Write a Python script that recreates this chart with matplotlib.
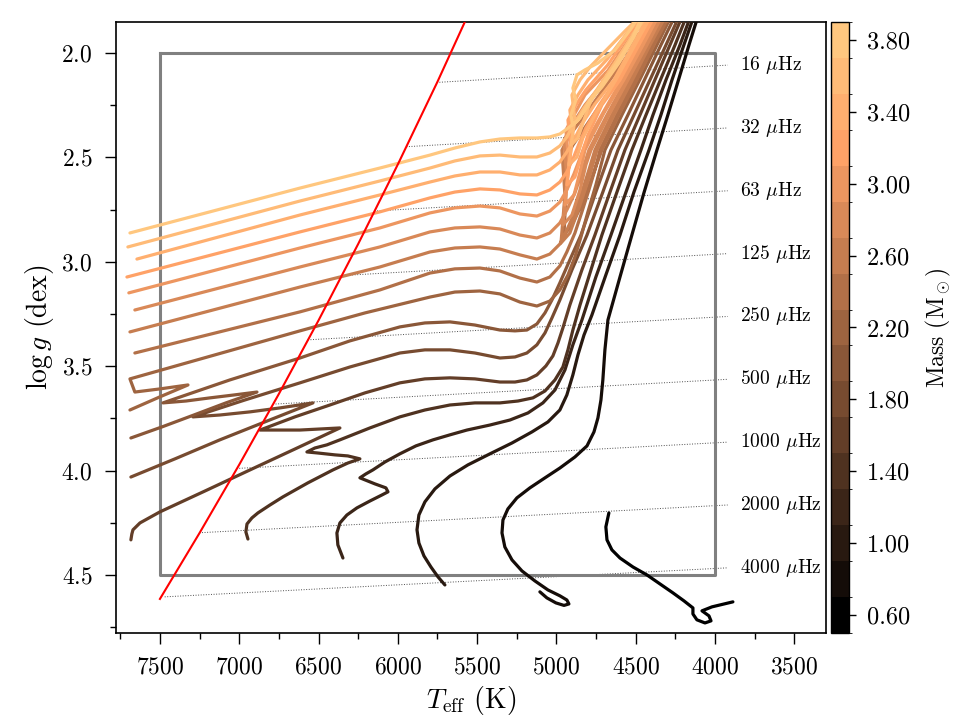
import numpy as np
import matplotlib
matplotlib.use('Agg')
import matplotlib.pyplot as plt
from matplotlib.colors import ListedColormap, BoundaryNorm
from matplotlib.cm import ScalarMappable
from matplotlib.ticker import MultipleLocator

plt.rcParams['font.family'] = 'serif'
plt.rcParams['font.serif'] = ['cmr10']
plt.rcParams['mathtext.fontset'] = 'cm'
plt.rcParams['axes.formatter.use_mathtext'] = True

# Track masses (solar masses), one track per mass
masses = [0.6, 0.8, 1.0, 1.2, 1.4, 1.6, 1.8, 2.0, 2.2, 2.4, 2.6, 2.8, 3.0, 3.2, 3.4, 3.6, 3.8]
cbar_ticks = [0.6, 1.0, 1.4, 1.8, 2.2, 2.6, 3.0, 3.4, 3.8]

# Evolutionary tracks (Teff in K, log g in dex)
teff_m06 = [4669, 4688, 4681, 4650, 4599, 4517, 4429, 4347, 4265, 4196, 4139, 4139, 4114, 4063, 4025, 4038,
            4082, 4019, 3887]
logg_m06 = [4.203, 4.270, 4.332, 4.380, 4.419, 4.462, 4.500, 4.543, 4.586, 4.624, 4.658, 4.687, 4.715, 4.730,
            4.720, 4.696, 4.672, 4.653, 4.629]

teff_m08 = [5104, 5060, 5003, 4952, 4921, 4934, 4978, 5053, 5135, 5217, 5280, 5325, 5343, 5337, 5306, 5249,
            5167, 5072, 4978, 4883, 4807, 4763, 4738, 4719, 4707, 4694, 4675, 4599, 4524, 4448, 4366, 4297,
            4230, 4164, 4095]
logg_m08 = [4.581, 4.610, 4.634, 4.646, 4.639, 4.620, 4.600, 4.572, 4.529, 4.481, 4.428, 4.366, 4.299, 4.237,
            4.184, 4.131, 4.083, 4.035, 3.988, 3.935, 3.882, 3.815, 3.748, 3.662, 3.566, 3.422, 3.279, 3.073,
            2.872, 2.670, 2.465, 2.297, 2.129, 1.962, 1.794]

teff_m10 = [5703, 5747, 5791, 5835, 5867, 5879, 5867, 5829, 5766, 5671, 5558, 5419, 5280, 5154, 5053, 4978,
            4934, 4896, 4864, 4826, 4776, 4688, 4599, 4511, 4416, 4341, 4271, 4196, 4120]
logg_m10 = [4.548, 4.509, 4.462, 4.409, 4.347, 4.284, 4.213, 4.150, 4.088, 4.026, 3.973, 3.920, 3.868, 3.815,
            3.767, 3.710, 3.638, 3.542, 3.446, 3.351, 3.255, 3.063, 2.872, 2.666, 2.465, 2.297, 2.129, 1.962,
            1.794]

teff_m12 = [6346, 6378, 6384, 6365, 6321, 6258, 6176, 6100, 6062, 6075, 6144, 6239, 6201, 6157, 6081, 5987,
            5886, 5778, 5671, 5564, 5419, 5293, 5179, 5085, 5009, 4946, 4896, 4839, 4751, 4656, 4561, 4467,
            4391, 4309, 4221, 4139]
logg_m12 = [4.419, 4.356, 4.299, 4.251, 4.213, 4.179, 4.146, 4.117, 4.102, 4.083, 4.064, 4.035, 4.016, 3.997,
            3.959, 3.920, 3.882, 3.853, 3.829, 3.806, 3.782, 3.758, 3.724, 3.676, 3.614, 3.518, 3.398, 3.279,
            3.073, 2.872, 2.666, 2.465, 2.297, 2.129, 1.962, 1.794]

teff_m14 = [6945, 6958, 6951, 6920, 6882, 6806, 6724, 6567, 6409, 6315, 6239, 6315, 6396, 6504, 6573, 6523,
            6447, 6365, 6176, 5987, 5829, 5671, 5514, 5356, 5242, 5148, 5072, 5009, 4959, 4927, 4896, 4851,
            4782, 4713, 4618, 4524, 4435, 4344, 4252, 4164]
logg_m14 = [4.328, 4.294, 4.256, 4.227, 4.203, 4.165, 4.126, 4.059, 3.997, 3.964, 3.944, 3.930, 3.925, 3.916,
            3.911, 3.892, 3.877, 3.853, 3.796, 3.743, 3.710, 3.686, 3.676, 3.676, 3.667, 3.652, 3.619, 3.566,
            3.504, 3.422, 3.327, 3.207, 3.039, 2.872, 2.666, 2.465, 2.297, 2.129, 1.962, 1.794]

teff_m16 = [7683, 7677, 7670, 7626, 7500, 7216, 6932, 6649, 6365, 6491, 6617, 6743, 6869, 6649, 6428, 6207,
            5987, 5829, 5671, 5514, 5356, 5261, 5186, 5123, 5066, 5022, 4990, 4959, 4915, 4839, 4757, 4662,
            4568, 4473, 4379, 4284, 4189]
logg_m16 = [4.332, 4.304, 4.284, 4.251, 4.198, 4.098, 3.997, 3.897, 3.796, 3.801, 3.806, 3.806, 3.806, 3.743,
            3.686, 3.628, 3.580, 3.561, 3.556, 3.561, 3.576, 3.576, 3.566, 3.542, 3.499, 3.451, 3.389, 3.317,
            3.207, 3.039, 2.872, 2.666, 2.465, 2.297, 2.129, 1.962, 1.794]

teff_m18 = [7683, 7405, 7122, 6838, 6535, 6743, 6932, 7122, 7292, 6964, 6617, 6302, 5987, 5829, 5671, 5514,
            5356, 5261, 5186, 5123, 5072, 5028, 4978, 4902, 4807, 4707, 4612, 4511, 4410, 4309, 4208]
logg_m18 = [4.031, 3.944, 3.853, 3.767, 3.676, 3.700, 3.719, 3.734, 3.743, 3.662, 3.580, 3.504, 3.437, 3.422,
            3.422, 3.437, 3.461, 3.456, 3.437, 3.398, 3.341, 3.269, 3.183, 3.039, 2.872, 2.666, 2.465, 2.297,
            2.129, 1.962, 1.794]

teff_m20 = [7683, 7487, 7286, 7084, 6888, 7033, 7185, 7336, 7481, 7059, 6617, 6302, 5987, 5829, 5671, 5514,
            5356, 5261, 5186, 5123, 5072, 5028, 4978, 4915, 4845, 4751, 4656, 4549, 4445, 4341, 4234]
logg_m20 = [3.844, 3.791, 3.734, 3.676, 3.624, 3.638, 3.652, 3.667, 3.676, 3.566, 3.461, 3.379, 3.312, 3.293,
            3.288, 3.303, 3.327, 3.331, 3.327, 3.298, 3.245, 3.183, 3.101, 2.991, 2.872, 2.666, 2.465, 2.297,
            2.129, 1.962, 1.794]

teff_m22 = [7689, 7500, 7323, 7500, 7658, 7689, 7153, 6617, 6207, 5797, 5640, 5482, 5356, 5230, 5123, 5041,
            4978, 4927, 4883, 4845, 4801, 4751, 4694, 4587, 4475, 4366, 4257]
logg_m22 = [3.710, 3.647, 3.590, 3.609, 3.624, 3.561, 3.446, 3.331, 3.245, 3.169, 3.145, 3.140, 3.154, 3.193,
            3.212, 3.188, 3.135, 3.063, 2.977, 2.881, 2.761, 2.632, 2.465, 2.297, 2.129, 1.962, 1.794]

teff_m24 = [7658, 6617, 6113, 5797, 5640, 5482, 5356, 5230, 5123, 5041, 4978, 4934, 4883, 4839, 4795, 4757,
            4725, 4618, 4506, 4398, 4280,
            4293, 4473, 4647, 4788, 4896, 4946, 4940, 4952, 4902, 4826, 4763, 4713, 4606, 4492, 4385, 4268]
logg_m24 = [3.437, 3.240, 3.135, 3.054, 3.034, 3.030, 3.044, 3.078, 3.097, 3.073, 3.020, 2.953, 2.862, 2.761,
            2.656, 2.560, 2.465, 2.297, 2.129, 1.962, 1.794,
            1.794, 1.962, 2.163, 2.321, 2.441, 2.512, 2.680, 2.872, 2.824, 2.704, 2.570, 2.465, 2.297, 2.129,
            1.962, 1.794]

teff_m26 = [7689, 6617, 6113, 5797, 5640, 5482, 5356, 5230, 5123, 5041, 4978, 4934, 4883, 4839, 4795, 4757,
            4650, 4533, 4423, 4303,
            4316, 4492, 4669, 4820, 4915, 4965, 4946, 4971, 4915, 4851, 4788, 4744, 4637, 4521, 4410, 4290]
logg_m26 = [3.336, 3.121, 3.025, 2.953, 2.934, 2.929, 2.939, 2.967, 2.987, 2.963, 2.915, 2.848, 2.761, 2.666,
            2.560, 2.465, 2.297, 2.129, 1.962, 1.794,
            1.794, 1.947, 2.137, 2.297, 2.393, 2.465, 2.680, 2.910, 2.862, 2.728, 2.584, 2.465, 2.297, 2.129,
            1.962, 1.794]

teff_m28 = [7658, 6617, 6113, 5797, 5640, 5482, 5356, 5230, 5123, 5041, 4978, 4934, 4883, 4839, 4795, 4681,
            4560, 4442, 4326,
            4339, 4505, 4670, 4820, 4902, 4952, 4934, 4959, 4902, 4851, 4814, 4782, 4669, 4549, 4429, 4314]
logg_m28 = [3.231, 3.025, 2.929, 2.857, 2.838, 2.833, 2.843, 2.872, 2.886, 2.862, 2.814, 2.752, 2.670, 2.570,
            2.465, 2.297, 2.129, 1.962, 1.794,
            1.794, 1.928, 2.110, 2.249, 2.345, 2.417, 2.608, 2.824, 2.776, 2.656, 2.536, 2.465, 2.297, 2.129,
            1.962, 1.794]

teff_m30 = [7696, 6617, 6113, 5797, 5640, 5482, 5356, 5230, 5123, 5041, 4978, 4934, 4889, 4851, 4820, 4707,
            4588, 4467, 4350,
            4362, 4524, 4675, 4820, 4889, 4940, 4921, 4946, 4889, 4851, 4820, 4700, 4575, 4454, 4337]
logg_m30 = [3.149, 2.934, 2.838, 2.766, 2.742, 2.733, 2.742, 2.771, 2.781, 2.757, 2.714, 2.656, 2.579, 2.503,
            2.441, 2.287, 2.129, 1.962, 1.794,
            1.794, 1.914, 2.084, 2.201, 2.297, 2.369, 2.536, 2.728, 2.680, 2.570, 2.465, 2.287, 2.129, 1.962,
            1.794]

teff_m32 = [7708, 6617, 6113, 5797, 5640, 5482, 5356, 5230, 5123, 5041, 4978, 4934, 4896, 4858, 4814, 4725,
            4612, 4492, 4372,
            4385, 4536, 4677, 4814, 4877, 4927, 4908, 4934, 4883, 4851, 4801, 4713, 4599, 4480, 4360]
logg_m32 = [3.073, 2.857, 2.761, 2.694, 2.666, 2.651, 2.656, 2.675, 2.680, 2.656, 2.618, 2.570, 2.508, 2.436,
            2.359, 2.244, 2.120, 1.962, 1.794,
            1.794, 1.904, 2.058, 2.177, 2.249, 2.321, 2.465, 2.632, 2.594, 2.512, 2.393, 2.249, 2.129, 1.962,
            1.794]

teff_m34 = [7645, 6617, 6113, 5797, 5640, 5482, 5356, 5230, 5123, 5041, 4978, 4934, 4889, 4839, 4757, 4637,
            4517, 4396,
            4408, 4549, 4681, 4801, 4864, 4915, 4896, 4921, 4870, 4833, 4757, 4625, 4505, 4383]
logg_m34 = [2.987, 2.776, 2.680, 2.618, 2.589, 2.570, 2.570, 2.584, 2.584, 2.560, 2.522, 2.474, 2.417, 2.340,
            2.244, 2.129, 1.962, 1.794,
            1.794, 1.899, 2.031, 2.129, 2.201, 2.273, 2.393, 2.536, 2.498, 2.407, 2.297, 2.129, 1.962, 1.794]

teff_m36 = [7702, 6617, 6113, 5797, 5640, 5482, 5356, 5230, 5123, 5041, 4978, 4934, 4889, 4826, 4738, 4631,
            4524, 4419,
            4431, 4561, 4690, 4788, 4851, 4902, 4883, 4908, 4864, 4826, 4782, 4700, 4599, 4498, 4406]
logg_m36 = [2.929, 2.709, 2.613, 2.551, 2.517, 2.493, 2.489, 2.498, 2.498, 2.479, 2.445, 2.402, 2.340, 2.263,
            2.168, 2.048, 1.919, 1.794,
            1.794, 1.890, 1.990, 2.067, 2.129, 2.201, 2.321, 2.441, 2.407, 2.321, 2.225, 2.129, 2.019, 1.899,
            1.794]

teff_m38 = [7689, 6617, 6113, 5797, 5640, 5482, 5356, 5230, 5123, 5041, 4978, 4934, 4870, 4807, 4725, 4618,
            4517, 4442,
            4454, 4536, 4631, 4738, 4820, 4870, 4896, 4877, 4908, 4896, 4851, 4788, 4713, 4606, 4511, 4429]
logg_m38 = [2.862, 2.647, 2.551, 2.489, 2.455, 2.426, 2.412, 2.407, 2.407, 2.402, 2.388, 2.364, 2.326, 2.259,
            2.163, 2.048, 1.923, 1.794,
            1.794, 1.890, 1.986, 2.048, 2.081, 2.105, 2.168, 2.225, 2.297, 2.345, 2.311, 2.225, 2.163, 2.048,
            1.923, 1.794]

tracks_teff = [teff_m06, teff_m08, teff_m10, teff_m12, teff_m14, teff_m16, teff_m18, teff_m20, teff_m22,
               teff_m24, teff_m26, teff_m28, teff_m30, teff_m32, teff_m34, teff_m36, teff_m38]
tracks_logg = [logg_m06, logg_m08, logg_m10, logg_m12, logg_m14, logg_m16, logg_m18, logg_m20, logg_m22,
               logg_m24, logg_m26, logg_m28, logg_m30, logg_m32, logg_m34, logg_m36, logg_m38]

# Red edge line
red_teff = [7500, 7250, 7000, 6750, 6500, 6250, 6000, 5750, 5500]
red_logg = [4.615, 4.299, 3.972, 3.633, 3.281, 2.915, 2.534, 2.138, 1.723]

# Iso-numax lines (dotted) with their labels
numax_labels = ['16', '32', '63', '125', '250', '500', '1000', '2000', '4000']
numax_teff_start = [5754, 5946, 6147, 6353, 6567, 6787, 7016, 7251, 7470]
numax_logg_start = [2.141, 2.449, 2.757, 3.066, 3.374, 3.682, 3.990, 4.298, 4.605]
numax_logg_end = [2.058, 2.359, 2.660, 2.961, 3.262, 3.563, 3.864, 4.165, 4.466]
numax_teff_end = 3920
numax_label_teff = 3845

# Selection box
box_teff = [7500, 4000]
box_logg = [2.0, 4.5]


def main():
    fig = plt.figure(figsize=(9.61, 7.21), dpi=100)
    ax = fig.add_axes([0.1207, 0.1221, 0.7388, 0.8474])
    cax = fig.add_axes([0.8647, 0.1221, 0.0187, 0.8474])

    cmap = ListedColormap(plt.cm.copper(np.linspace(0, 1, len(masses))))
    bounds = [m - 0.1 for m in masses] + [masses[-1] + 0.1]
    norm = BoundaryNorm(bounds, cmap.N)

    # numax lines
    for lab, t0, g0, g1 in zip(numax_labels, numax_teff_start, numax_logg_start, numax_logg_end):
        ax.plot([t0, numax_teff_end], [g0, g1], ls=':', color='0.3', lw=0.7, zorder=1)
        ax.text(numax_label_teff, g1, lab + r' $\mu$Hz', fontsize=14, ha='left', va='center')

    # box
    ax.plot([box_teff[0], box_teff[1], box_teff[1], box_teff[0], box_teff[0]],
            [box_logg[0], box_logg[0], box_logg[1], box_logg[1], box_logg[0]],
            color='0.5', lw=2.2, zorder=2)

    # tracks
    for m, t, g in zip(masses, tracks_teff, tracks_logg):
        ax.plot(t, g, color=cmap(norm(m)), lw=2.3, zorder=3,
                solid_joinstyle='round', solid_capstyle='round')

    ax.plot(red_teff, red_logg, color='red', lw=1.5, zorder=4)

    ax.set_xlim(7777, 3300)
    ax.set_ylim(4.778, 1.8515)
    ax.xaxis.set_major_locator(MultipleLocator(500))
    ax.xaxis.set_minor_locator(MultipleLocator(250))
    ax.yaxis.set_major_locator(MultipleLocator(0.5))
    ax.yaxis.set_minor_locator(MultipleLocator(0.25))
    ax.tick_params(which='major', direction='out', length=8, width=1.0, pad=9, labelsize=17,
                   top=False, right=False)
    ax.tick_params(which='minor', direction='out', length=4, width=1.0, top=False, right=False)
    for s in ax.spines.values():
        s.set_linewidth(1.2)
    ax.set_xlabel(r'$T_{\rm eff}$ (K)', fontsize=20)
    ax.set_ylabel(r'$\log g$ (dex)', fontsize=20)

    sm = ScalarMappable(norm=norm, cmap=cmap)
    cb = fig.colorbar(sm, cax=cax, ticks=cbar_ticks, format='%.2f')
    cb.outline.set_linewidth(1.0)
    cax.tick_params(direction='out', length=5, width=1.0, pad=8, labelsize=17.5)
    cb.set_label(r'Mass (M$_\odot$)', fontsize=17, labelpad=10)

    fig.savefig('out.png', dpi=100)


if __name__ == '__main__':
    main()
